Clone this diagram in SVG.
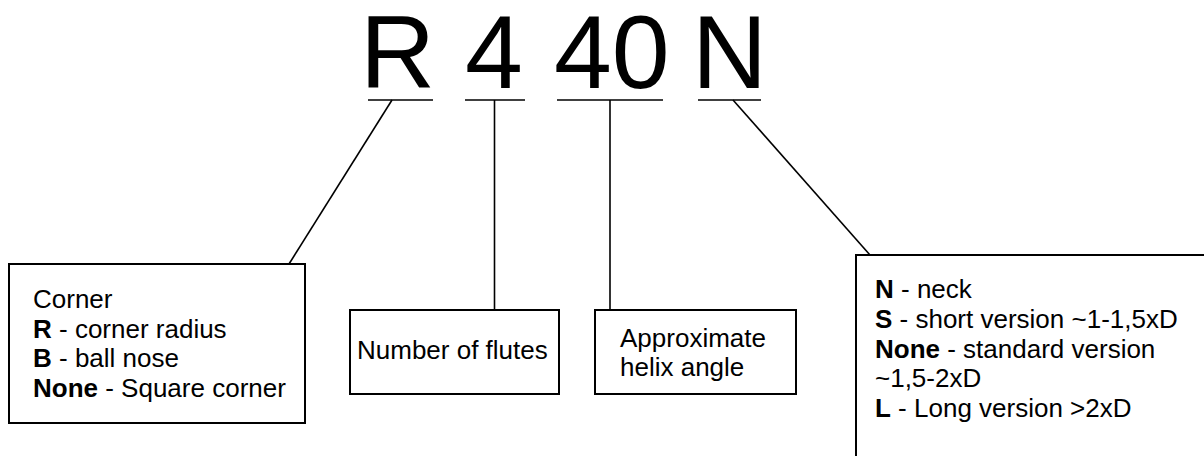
<svg xmlns="http://www.w3.org/2000/svg" width="1204" height="456" viewBox="0 0 1204 456">
<style>
text{font-family:"Liberation Sans",Arial,sans-serif;fill:#000}
.big{font-size:104px}
.t{font-size:26px}
.b{font-weight:bold}
.box{fill:#fff;stroke:#000;stroke-width:2}
.ln{stroke:#000;stroke-width:1.6;fill:none}
</style>
<rect width="1204" height="456" fill="#fff"/>
<g id="code">
<text class="big" x="360" y="88">R</text>
<text class="big" x="465" y="88">4</text>
<text class="big" x="554" y="88">40</text>
<text class="big" x="692" y="88">N</text>
<line class="ln" x1="368" y1="100" x2="433" y2="100"/>
<line class="ln" x1="465" y1="100" x2="525" y2="100"/>
<line class="ln" x1="557" y1="100" x2="663" y2="100"/>
<line class="ln" x1="698" y1="100" x2="761" y2="100"/>
</g>
<g id="connectors">
<line class="ln" x1="392" y1="100" x2="289" y2="264"/>
<line class="ln" x1="494.5" y1="100" x2="494.5" y2="310"/>
<line class="ln" x1="610" y1="100" x2="610" y2="310"/>
<line class="ln" x1="733" y1="100" x2="870" y2="255"/>
</g>
<g id="corner">
<rect class="box" x="9" y="264" width="296" height="159"/>
<text class="t" x="33" y="308">Corner</text>
<text class="t" x="33" y="338"><tspan class="b">R</tspan> - corner radius</text>
<text class="t" x="33" y="367"><tspan class="b">B</tspan> - ball nose</text>
<text class="t" x="33" y="397"><tspan class="b">None</tspan> - Square corner</text>
</g>
<g id="flutes">
<rect class="box" x="350" y="310" width="209" height="84"/>
<text class="t" x="357" y="359">Number of flutes</text>
</g>
<g id="helix">
<rect class="box" x="595" y="310" width="201" height="84"/>
<text class="t" x="620" y="347">Approximate</text>
<text class="t" x="620" y="376">helix angle</text>
</g>
<g id="neck">
<rect class="box" x="856" y="255" width="360" height="220"/>
<text class="t" x="875" y="298"><tspan class="b">N</tspan> - neck</text>
<text class="t" x="875" y="328"><tspan class="b">S</tspan> - short version ~1-1,5xD</text>
<text class="t" x="875" y="358"><tspan class="b">None</tspan> - standard version</text>
<text class="t" x="875" y="387">~1,5-2xD</text>
<text class="t" x="875" y="417"><tspan class="b">L</tspan> - Long version &gt;2xD</text>
</g>
</svg>
